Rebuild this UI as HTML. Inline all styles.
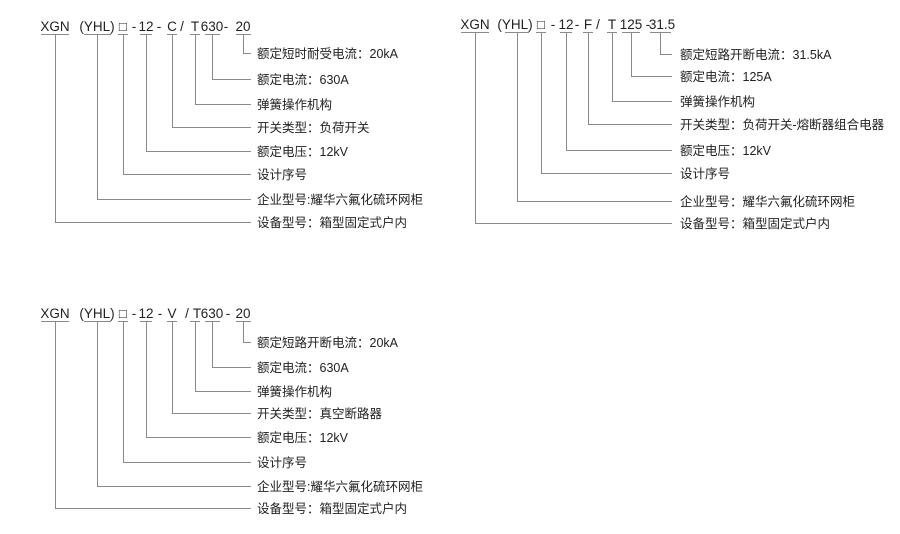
<!DOCTYPE html>
<html><head><meta charset="utf-8"><style>
html,body{margin:0;padding:0;background:#fff;}
svg{display:block}
text{font-family:"Liberation Sans","Noto Sans CJK SC",sans-serif;fill:#222;}
.t{font-size:13.5px;text-anchor:middle}
.l{font-size:12.5px}
line,polyline{stroke:#8a8a8a;stroke-width:1;fill:none}
</style></head><body>
<svg width="900" height="534" viewBox="0 0 900 534">
<!-- Diagram 1 -->
<g>
<text class="t" x="55" y="31">XGN</text><text class="t" x="97" y="31">(YHL)</text><text class="t" x="123" y="31">□</text><text class="t" x="134" y="31">-</text><text class="t" x="146" y="31">12</text><text class="t" x="159" y="31">-</text><text class="t" x="172" y="31">C</text><text class="t" x="182" y="31">/</text><text class="t" x="195" y="31">T</text><text class="t" x="212" y="31">630</text><text class="t" x="226" y="31">-</text><text class="t" x="243" y="31">20</text>
<line x1="41" y1="34.5" x2="69" y2="34.5"/><line x1="84" y1="34.5" x2="111" y2="34.5"/><line x1="118" y1="34.5" x2="128" y2="34.5"/><line x1="140" y1="34.5" x2="152" y2="34.5"/><line x1="167" y1="34.5" x2="177" y2="34.5"/><line x1="190" y1="34.5" x2="200" y2="34.5"/><line x1="205" y1="34.5" x2="220" y2="34.5"/><line x1="236" y1="34.5" x2="251" y2="34.5"/>
<polyline points="243.5,35 243.5,53.5 251,53.5"/>
<polyline points="212.5,35 212.5,79.5 251,79.5"/>
<polyline points="195.5,35 195.5,104.5 251,104.5"/>
<polyline points="172.5,35 172.5,127.5 251,127.5"/>
<polyline points="146.5,35 146.5,151.5 251,151.5"/>
<polyline points="123.5,35 123.5,174.5 251,174.5"/>
<polyline points="97.5,35 97.5,199.5 251,199.5"/>
<polyline points="55.5,35 55.5,222.5 251,222.5"/>
<text class="l" x="257" y="58">额定短时耐受电流：20kA</text>
<text class="l" x="257" y="84">额定电流：630A</text>
<text class="l" x="257" y="109">弹簧操作机构</text>
<text class="l" x="257" y="132">开关类型：负荷开关</text>
<text class="l" x="257" y="156">额定电压：12kV</text>
<text class="l" x="257" y="179">设计序号</text>
<text class="l" x="257" y="204">企业型号:耀华六氟化硫环网柜</text>
<text class="l" x="257" y="227">设备型号：箱型固定式户内</text>
</g>
<!-- Diagram 2 -->
<g>
<text class="t" x="475" y="29">XGN</text><text class="t" x="515" y="29">(YHL)</text><text class="t" x="541" y="29">□</text><text class="t" x="553" y="29">-</text><text class="t" x="566" y="29">12</text><text class="t" x="577" y="29">-</text><text class="t" x="588" y="29">F</text><text class="t" x="598" y="29">/</text><text class="t" x="612" y="29">T</text><text class="t" x="631" y="29">125</text><text class="t" x="648" y="29">-</text><text class="t" x="662" y="29">31.5</text>
<line x1="461" y1="32.5" x2="489" y2="32.5"/><line x1="505" y1="32.5" x2="529" y2="32.5"/><line x1="536" y1="32.5" x2="546" y2="32.5"/><line x1="560" y1="32.5" x2="572" y2="32.5"/><line x1="583" y1="32.5" x2="593" y2="32.5"/><line x1="607" y1="32.5" x2="617" y2="32.5"/><line x1="622" y1="32.5" x2="640" y2="32.5"/><line x1="650" y1="32.5" x2="671" y2="32.5"/>
<polyline points="660.5,33 660.5,54.5 672,54.5"/>
<polyline points="631.5,33 631.5,76.5 672,76.5"/>
<polyline points="612.5,33 612.5,101.5 672,101.5"/>
<polyline points="588.5,33 588.5,124.5 672,124.5"/>
<polyline points="566.5,33 566.5,150.5 672,150.5"/>
<polyline points="541.5,33 541.5,173.5 672,173.5"/>
<polyline points="517.5,33 517.5,201.5 672,201.5"/>
<polyline points="475.5,33 475.5,223.5 672,223.5"/>
<text class="l" x="680" y="59">额定短路开断电流：31.5kA</text>
<text class="l" x="680" y="81">额定电流：125A</text>
<text class="l" x="680" y="106">弹簧操作机构</text>
<text class="l" x="680" y="129">开关类型：负荷开关-熔断器组合电器</text>
<text class="l" x="680" y="155">额定电压：12kV</text>
<text class="l" x="680" y="178">设计序号</text>
<text class="l" x="680" y="206">企业型号：耀华六氟化硫环网柜</text>
<text class="l" x="680" y="228">设备型号：箱型固定式户内</text>
</g>
<!-- Diagram 3 -->
<g>
<text class="t" x="55" y="318">XGN</text><text class="t" x="97" y="318">(YHL)</text><text class="t" x="123" y="318">□</text><text class="t" x="134" y="318">-</text><text class="t" x="146" y="318">12</text><text class="t" x="160" y="318">-</text><text class="t" x="172" y="318">V</text><text class="t" x="187" y="318">/</text><text class="t" x="197" y="318">T</text><text class="t" x="212" y="318">630</text><text class="t" x="228" y="318">-</text><text class="t" x="243" y="318">20</text>
<line x1="41" y1="321.5" x2="69" y2="321.5"/><line x1="84" y1="321.5" x2="111" y2="321.5"/><line x1="118" y1="321.5" x2="128" y2="321.5"/><line x1="140" y1="321.5" x2="152" y2="321.5"/><line x1="167" y1="321.5" x2="177" y2="321.5"/><line x1="190" y1="321.5" x2="200" y2="321.5"/><line x1="205" y1="321.5" x2="220" y2="321.5"/><line x1="236" y1="321.5" x2="251" y2="321.5"/>
<polyline points="243.5,322 243.5,342.5 251,342.5"/>
<polyline points="212.5,322 212.5,367.5 251,367.5"/>
<polyline points="195.5,322 195.5,391.5 251,391.5"/>
<polyline points="172.5,322 172.5,413.5 251,413.5"/>
<polyline points="146.5,322 146.5,437.5 251,437.5"/>
<polyline points="123.5,322 123.5,462.5 251,462.5"/>
<polyline points="97.5,322 97.5,486.5 251,486.5"/>
<polyline points="55.5,322 55.5,508.5 251,508.5"/>
<text class="l" x="257" y="347">额定短路开断电流：20kA</text>
<text class="l" x="257" y="372">额定电流：630A</text>
<text class="l" x="257" y="396">弹簧操作机构</text>
<text class="l" x="257" y="418">开关类型：真空断路器</text>
<text class="l" x="257" y="442">额定电压：12kV</text>
<text class="l" x="257" y="467">设计序号</text>
<text class="l" x="257" y="491">企业型号:耀华六氟化硫环网柜</text>
<text class="l" x="257" y="513">设备型号：箱型固定式户内</text>
</g>
</svg>
</body></html>
